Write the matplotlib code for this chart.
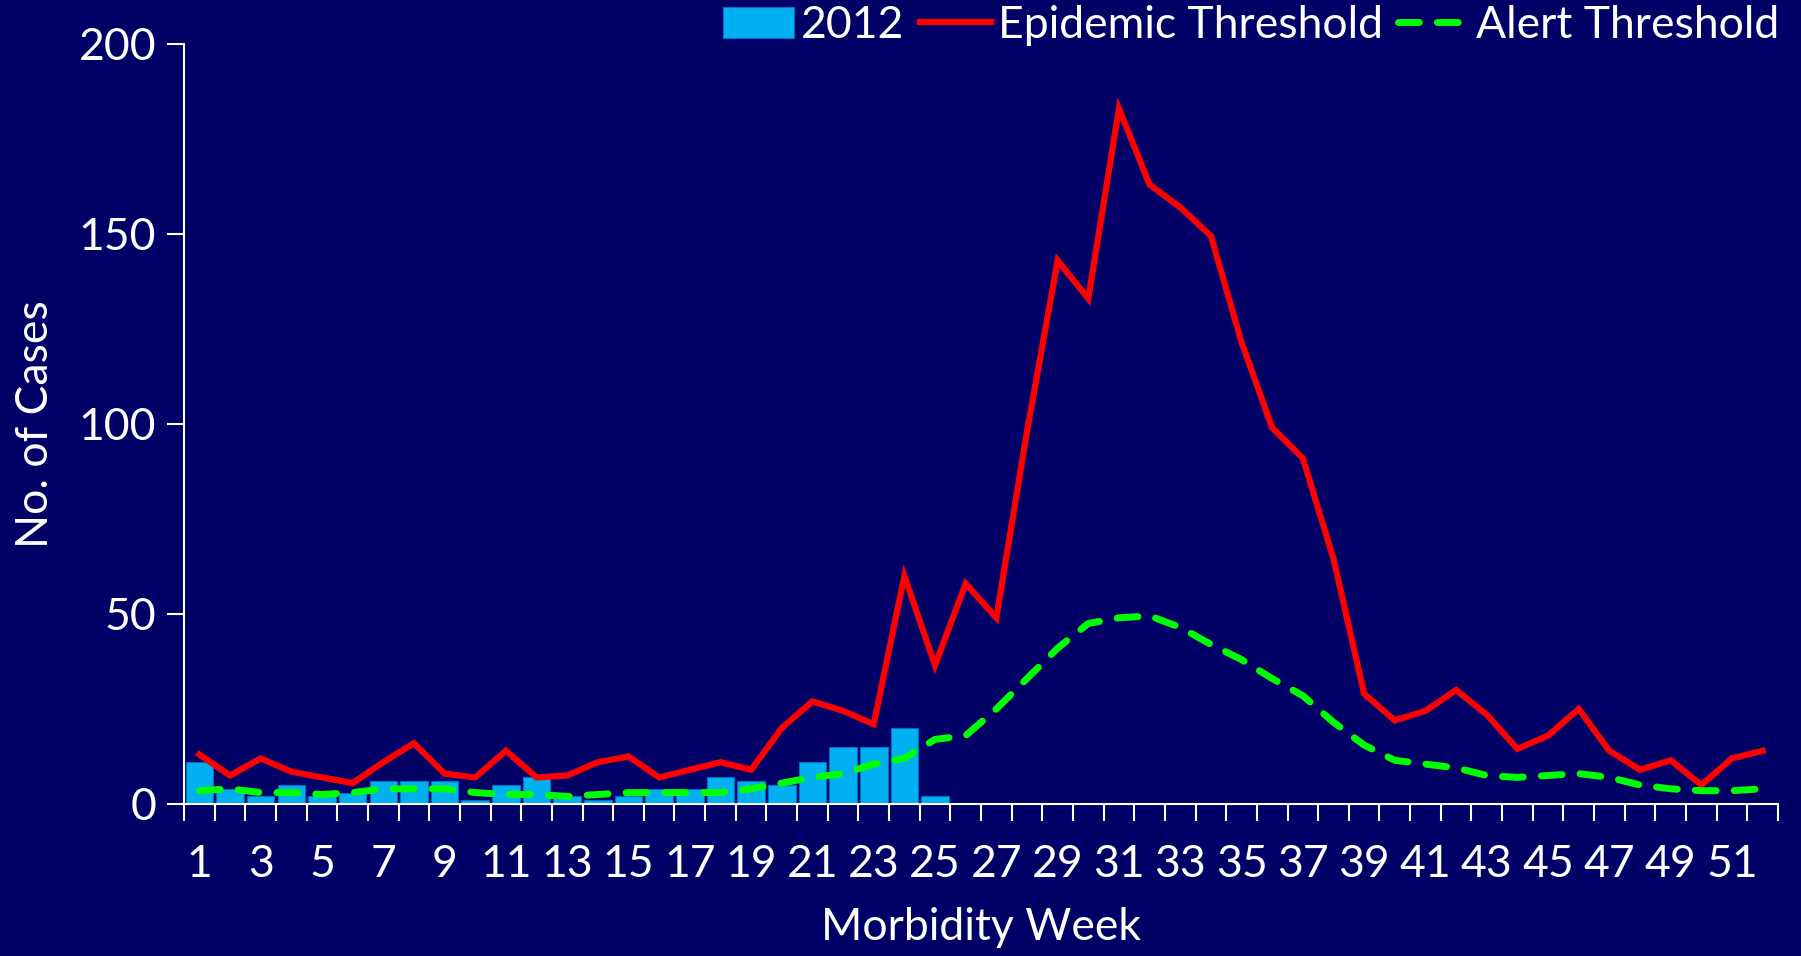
import numpy as np
import matplotlib.pyplot as plt

# weekly data
weeks = np.arange(1, 53)
cases_2012 = [11, 4, 2, 5, 2, 3, 6, 6, 6, 1, 5, 7, 2, 1, 2, 4, 4, 7, 6, 5,
              11, 15, 15, 20, 2]
epidemic = [13, 7.5, 12, 8.5, 7, 5.5, 11, 16, 8, 7, 14, 7, 7.5, 11, 12.5, 7, 9, 11, 9, 20,
            27, 24.5, 21, 60, 36.5, 58, 49, 98, 143, 133, 183, 163, 157, 149.5, 121.5, 99,
            91, 64.5, 29, 22, 24.5, 30, 23.5, 14.5, 18, 25, 14, 9, 11.5, 5, 12, 14]
alert = [3.5, 4, 3, 3, 2.5, 3, 4, 4, 4, 3, 2.5, 2.5, 2, 2.5, 3, 3, 3, 3, 4, 5.5,
         7, 8, 10.5, 12, 17, 18, 25, 33, 41, 47.5, 49, 49.5, 46.5, 42, 38, 33,
         28.5, 21.5, 15.5, 11.5, 10.5, 9.5, 7.5, 7, 7.5, 8, 7, 5, 4, 3.5, 3.5, 4]

bg = '#000066'
fs = 32
plt.rcParams['font.family'] = ['Lato', 'DejaVu Sans']

fig = plt.figure(figsize=(18.01, 9.56), dpi=100, facecolor=bg)
ax = fig.add_axes([0.1022, 0.159, 0.885, 0.795], facecolor=bg)

bars = ax.bar(weeks[:len(cases_2012)], cases_2012, width=0.9, color='#00B0F0',
              edgecolor='#0070C0', linewidth=0.8, label='2012', zorder=2)
l1, = ax.plot(weeks, epidemic, color='#FF0000', lw=4.5, solid_joinstyle='miter',
              label='Epidemic Threshold', zorder=3)
l2, = ax.plot(weeks, alert, color='#00FF00', lw=5, dashes=(3.0, 2.6),
              dash_capstyle='round', label='Alert Threshold', zorder=4)

ax.set_xlim(0.5, 52.5)
ax.set_ylim(0, 200)
ax.set_yticks([0, 50, 100, 150, 200])

ax.set_xticks(np.arange(0.5, 53, 1))
ax.set_xticklabels([])
ax.set_xticks(np.arange(1, 53, 2), minor=True)
ax.set_xticklabels([str(w) for w in range(1, 53, 2)], minor=True)
ax.tick_params(axis='x', which='major', length=12, width=1.5, color='white')
ax.tick_params(axis='x', which='minor', length=0, pad=29, labelsize=fs, labelcolor='white')
ax.tick_params(axis='y', length=12, width=1.5, color='white', pad=8,
               labelsize=fs, labelcolor='white')

for s in ['top', 'right']:
    ax.spines[s].set_visible(False)
for s in ['left', 'bottom']:
    ax.spines[s].set_color('white')
    ax.spines[s].set_linewidth(1.5)

ax.set_ylabel('No. of Cases', fontsize=fs, color='white', labelpad=16)
ax.set_xlabel('Morbidity Week', fontsize=fs, color='white', labelpad=16)

leg = ax.legend([bars, l1, l2], ['2012', 'Epidemic Threshold', 'Alert Threshold'],
                loc='upper right', bbox_to_anchor=(1.012, 1.075), ncol=3, frameon=False,
                fontsize=fs, labelcolor='white', handlelength=1.6, handletextpad=0.15,
                columnspacing=0.35, borderaxespad=0)

fig.savefig('out.png', dpi=100, facecolor=bg)
